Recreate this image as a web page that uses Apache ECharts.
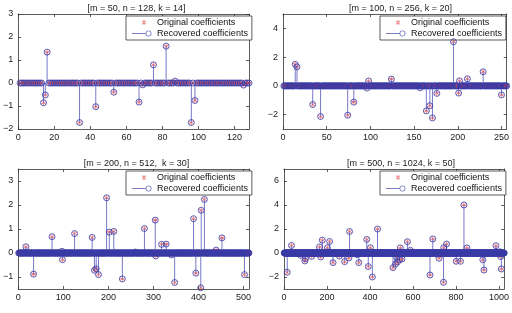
<!DOCTYPE html>
<html>
<head>
<meta charset="utf-8">
<script src="https://cdn.jsdelivr.net/npm/echarts@6/dist/echarts.min.js"></script>
<style>
  html, body { margin: 0; padding: 0; background: #fff; }
  #main { width: 512px; height: 313px; }
</style>
</head>
<body>
<div id="main"></div>
<script>
// four sparse-recovery panels: spike positions and values
const titles = ['[m = 50, n = 128, k = 14]', '[m = 100, n = 256, k = 20]',
  '[m = 200, n = 512,  k = 30]', '[m = 500, n = 1024, k = 50]'];
const sizes = [128, 256, 512, 1024];

const idx1 = [14, 15, 16, 34, 43, 53, 67, 69, 75, 82, 87, 96, 98, 125];
const val1 = [-0.86, -0.52, 1.34, -1.72, -1.03, -0.40, -0.83, -0.08, 0.79, 1.60, 0.08, -1.72, -0.76, -0.09];

const idx2 = [14, 16, 34, 43, 74, 81, 96, 98, 124, 157, 164, 168, 171, 176, 195, 201, 202, 211, 229, 250];
const val2 = [1.50, 1.32, -1.30, -2.13, -2.04, -1.13, -0.15, 0.34, 0.47, -0.13, -1.74, -1.38, -2.23, -0.52, 3.07, -0.50, 0.35, 0.49, 0.98, -0.63];

const idx3 = [17, 34, 75, 97, 98, 125, 164, 169, 173, 178, 196, 202, 212, 231, 260, 280, 304, 305, 318, 328, 340, 347, 389, 394, 405, 406, 413, 439, 452, 502];
const val3 = [0.26, -0.88, 0.68, 0.07, -0.28, 0.81, 0.65, -0.72, -0.66, -0.90, 2.30, 0.87, 0.90, -1.08, 0.04, 1.02, 1.37, -0.12, 0.36, 0.37, -0.08, -1.23, 1.43, -0.84, -1.45, 1.78, 2.23, 0.12, 0.63, -0.90];

const idx4 = [15, 35, 78, 97, 100, 128, 165, 171, 178, 202, 212, 228, 258, 282, 302, 305, 340, 348, 385, 392, 402, 411, 435,
  507, 519, 525, 528, 538, 541, 549, 574, 588, 679, 692, 721, 742, 743, 756, 801, 821, 837, 851, 925, 930, 986, 1005, 1008, 1011];
const val4 = [-1.60, 0.63, -0.20, -0.66, -0.47, -0.28, 0.50, -0.33, 1.07, 0.44, 0.96, -0.80, -0.25, -0.72, -0.41, 1.79, -0.14, -0.80, 1.13, -1.13, 0.44, -2.00, 2.00,
  -1.22, -0.92, -0.36, -0.75, -0.56, 0.42, -0.50, 0.94, 0.22, -1.83, 1.17, -0.44, -2.44, 0.44, 0.75, -0.69, -0.69, 4.00, 0.42, -0.56, -1.42, 0.61, 0.10, -0.30, -1.33];

// axis ranges and ticks
const xInterval = [20, 50, 100, 200];
const yMin = [-2, -3, -1.5, -3];
const yMax = [3, 5, 3.5, 7];
const yTicks = [[-2, -1, 0, 1, 2, 3], [-2, 0, 2, 4], [-1, 0, 1, 2, 3], [-2, 0, 2, 4, 6]];

const spikeIdx = [idx1, idx2, idx3, idx4];
const spikeVal = [val1, val2, val3, val4];

const grids = [
  { left: 14, top: 14, width: 235, height: 115 },
  { left: 283, top: 14, width: 225, height: 115 },
  { left: 14, top: 169, width: 235, height: 120 },
  { left: 284, top: 169, width: 224, height: 120 }
];
const legendPos = [[126, 16], [380, 16], [126, 171], [380, 171]];

const FONT = 'Liberation Sans, Arial, sans-serif';
const RED = '#e23a3a';
const BLUE = '#3a3aa6';

// asterisk made of three bars
const ast = 'M-0.6,-5 L0.6,-5 L0.6,5 L-0.6,5 Z M-4.63,-1.98 L-4.03,-3.02 L4.63,1.98 L4.03,3.02 Z M4.03,-3.02 L4.63,-1.98 L-4.03,3.02 L-4.63,1.98 Z';
// legend icons in a 20x8 box (tiny corner triangles fix the box)
const box = 'M0,0 L0.01,0 L0,0.01 Z M20,8 L19.99,8 L20,7.99 Z ';
const origIcon = 'path://' + box +
  'M11.7,1.5 L12.3,1.5 L12.3,6.5 L11.7,6.5 Z M9.7,2.6 L10,2.1 L14.3,5.4 L14,5.9 Z M14,2.1 L14.3,2.6 L10,5.9 L9.7,5.4 Z';
const recIcon = 'path://' + box +
  'M0,3.6 L13.6,3.6 L13.6,4.4 L0,4.4 Z M19.5,4 A3,3 0 1,0 13.5,4 A3,3 0 1,0 19.5,4 Z M18.7,4 A2.2,2.2 0 1,1 14.3,4 A2.2,2.2 0 1,1 18.7,4 Z';

const fmt = v => String(v).replace('-', '\u2212');

const xAxis = [], yAxis = [], series = [], title = [], legend = [];
sizes.forEach((n, i) => {
  const g = grids[i];
  title.push({
    text: titles[i], left: g.left + g.width / 2, top: i < 2 ? -1 : 154, textAlign: 'center',
    textStyle: { fontSize: 9, fontWeight: 'normal', color: '#222', fontFamily: FONT }
  });
  const tick = { inside: true, length: 3, lineStyle: { color: '#333', width: 0.8 } };
  const line = { show: true, onZero: false, lineStyle: { color: '#333', width: 0.8 } };
  const xLab = { fontSize: 9, color: '#222', margin: 4, fontFamily: FONT, formatter: fmt };
  xAxis.push({ type: 'value', gridIndex: i, position: 'bottom', min: 0, max: n, interval: xInterval[i],
    axisLine: line, axisTick: tick, axisLabel: xLab, splitLine: { show: false } });
  xAxis.push({ type: 'value', gridIndex: i, position: 'top', min: 0, max: n, interval: xInterval[i],
    axisLine: line, axisTick: tick, axisLabel: { show: false }, splitLine: { show: false } });
  const yTick = Object.assign({ customValues: yTicks[i] }, tick);
  yAxis.push({ type: 'value', gridIndex: i, position: 'left', min: yMin[i], max: yMax[i],
    axisLine: line, axisTick: yTick,
    axisLabel: { fontSize: 9, color: '#222', margin: 5, fontFamily: FONT, formatter: fmt, customValues: yTicks[i] },
    splitLine: { show: false } });
  yAxis.push({ type: 'value', gridIndex: i, position: 'right', min: yMin[i], max: yMax[i],
    axisLine: line, axisTick: yTick, axisLabel: { show: false }, splitLine: { show: false } });

  // full coefficient vector: zeros except at the spikes
  const full = [];
  for (let k = 1; k <= n; k++) full.push([k, 0]);
  spikeIdx[i].forEach((k, j) => { full[k - 1] = [k, spikeVal[i][j]]; });
  const stems = spikeIdx[i].map((k, j) => [k, spikeVal[i][j]]);

  series.push({
    name: 'Original coefficients', type: 'scatter', xAxisIndex: 2 * i, yAxisIndex: 2 * i,
    data: full, symbol: 'path://' + ast, symbolSize: 5, itemStyle: { color: RED }, z: 2, silent: true
  });
  series.push({
    name: 'stem' + i, type: 'bar', xAxisIndex: 2 * i, yAxisIndex: 2 * i,
    data: stems, barWidth: 1, itemStyle: { color: '#7878c8' }, z: 3, silent: true
  });
  series.push({
    name: 'Recovered coefficients', type: 'scatter', xAxisIndex: 2 * i, yAxisIndex: 2 * i,
    data: full, symbol: 'circle', symbolSize: 6,
    itemStyle: { color: 'rgba(0,0,0,0)', borderColor: BLUE, borderWidth: 1 }, z: 4, silent: true
  });

  legend.push({
    left: legendPos[i][0], top: legendPos[i][1], orient: 'vertical',
    padding: [2, 4, 2, 6], itemGap: 2, itemWidth: 20, itemHeight: 8,
    backgroundColor: '#fff', borderColor: '#333', borderWidth: 0.8, borderRadius: 0,
    selectedMode: false,
    textStyle: { fontSize: 9, color: '#111', fontFamily: FONT },
    data: [
      { name: 'Original coefficients', icon: origIcon, itemStyle: { color: RED, borderWidth: 0 } },
      { name: 'Recovered coefficients', icon: recIcon, itemStyle: { color: '#5a5ab8', borderWidth: 0 } }
    ]
  });
});

const chart = echarts.init(document.getElementById('main'));
chart.setOption({
  animation: false,
  backgroundColor: '#fff',
  title: title,
  legend: legend,
  grid: grids,
  xAxis: xAxis,
  yAxis: yAxis,
  series: series
});
</script>
</body>
</html>
